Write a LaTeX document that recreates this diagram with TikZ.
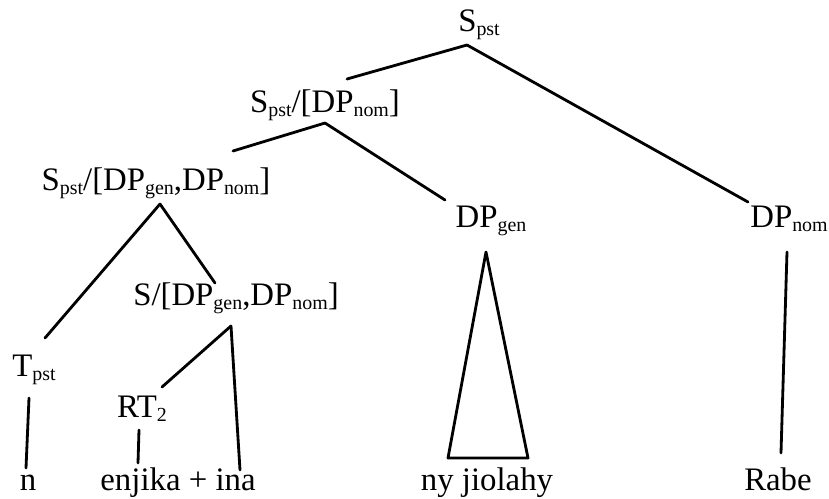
\documentclass[tikz,border=0pt]{standalone}
\usepackage{fontspec}
\setmainfont{Liberation Serif}
\usetikzlibrary{calc}

\newcommand{\lsub}[1]{\raisebox{-3.5pt}{\fontsize{17}{17}\selectfont #1}}

\begin{document}
\begin{tikzpicture}[x=0.03cm,y=-0.03cm,line width=2.4pt,line cap=round,line join=round,
    every node/.style={anchor=base,inner sep=0pt,font=\fontsize{28}{30}\selectfont}]
                \useasboundingbox (0,0) rectangle (829,499);
                \node(spst)at(479, 31){S\lsub{pst}};
                \node(spstnom)at(325, 112){S\lsub{pst}/[DP\lsub{nom}]};
                \node(spstgennom)at(156, 190){S\lsub{pst}/[DP\lsub{gen},DP\lsub{nom}]};
                \node(dpgen)at(491, 227){DP\lsub{gen}};
                \node(dpnom)at(789, 227){DP\lsub{nom}};
                \node(sgennom)at(236, 305){S/[DP\lsub{gen},DP\lsub{nom}]};
                \node(tpst)at(34, 376){T\lsub{pst}};
                \node(rt)at(142, 417){RT\lsub{2}};
                % leaves
                \node(n)at(28, 490){n};
                \node(enjika)at(178, 490){enjika + ina};
                \node(jiolahy)at(487, 490){ny jiolahy};
                \node(rabe)at(778, 490){Rabe};
                \path[draw]($(spst.base)+(-12,14)$) edge ($(spstnom.base)+(22,-33)$)
                ($(spst.base)+(-12,14)$) edge ($(dpnom.base)+(-41,-25)$)
                ($(spstnom.base)+(0,11)$) edge ($(spstgennom.base)+(77,-39)$)
                ($(spstnom.base)+(0,11)$) edge ($(dpgen.base)+(-46,-27)$)
                ($(spstgennom.base)+(4,14)$) edge ($(tpst.base)+(11,-38)$)
                ($(spstgennom.base)+(4,14)$) edge ($(sgennom.base)+(-21,-22)$)
                ($(sgennom.base)+(-5,21)$) edge ($(rt.base)+(20,-30)$)
                ($(sgennom.base)+(-5,21)$) edge ($(enjika.base)+(62,-20)$)
                ($(tpst.base)+(-5,22)$) edge ($(n.base)+(-2,-22)$)
                ($(rt.base)+(-3,13)$) edge ($(enjika.base)+(-40,-27)$)
                ($(dpnom.base)+(-2,25)$) edge ($(rabe.base)+(3,-37)$);
                % triangle over the DP
                \draw($(dpgen.base)+(-5,25)$) -- ($(jiolahy.base)+(-39,-32)$)
                -- ($(jiolahy.base)+(41,-32)$) -- cycle;
            \end{tikzpicture}
\end{document}
